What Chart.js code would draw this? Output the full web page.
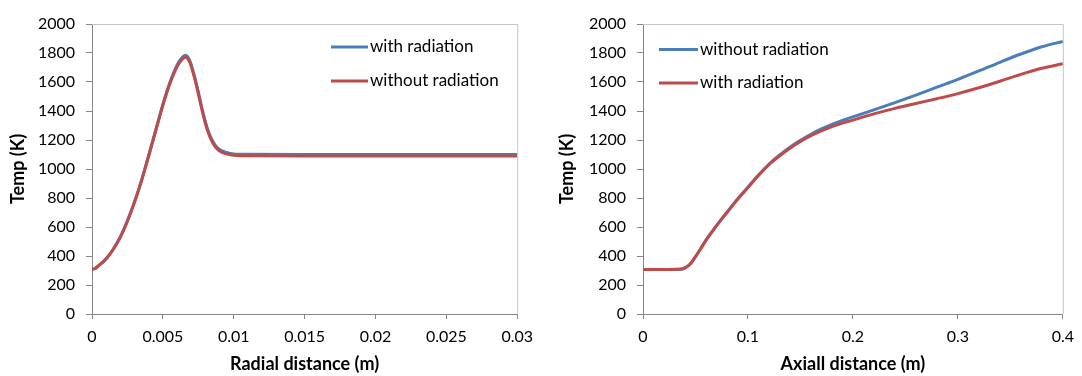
<!DOCTYPE html>
<html>
<head>
<meta charset="utf-8">
<script src="https://cdn.jsdelivr.net/npm/chart.js@4.4.1/dist/chart.umd.min.js"></script>
<style>
  html, body { margin: 0; padding: 0; background: #fff; }
  #wrap { position: relative; width: 1082px; height: 376px; }
  canvas { position: absolute; top: 0; }
  #radialChart { left: 0; }
  #axialChart { left: 541px; }
</style>
</head>
<body>
<div id="wrap">
  <canvas id="radialChart" width="541" height="376"></canvas>
  <canvas id="axialChart" width="541" height="376"></canvas>
</div>
<script>
/* global Chart */

// Left chart: radial profile
const radialX = [0, 0.0002, 0.0005, 0.001, 0.0015, 0.002, 0.0025, 0.003, 0.0035, 0.004, 0.0045, 0.005,
  0.0055, 0.006, 0.0063, 0.0066, 0.0069, 0.0072, 0.0075, 0.0078, 0.0081, 0.0084, 0.0087, 0.009,
  0.0095, 0.01, 0.011, 0.015, 0.02, 0.025, 0.03];
const radialWithRad = [310, 314, 337, 382, 448, 533, 644, 774, 925, 1095, 1270, 1446,
  1598, 1716, 1762, 1784, 1748, 1652, 1532, 1402, 1292, 1214, 1163, 1134,
  1114, 1104, 1101, 1100, 1100, 1100, 1100];
const radialWithoutRad = [308, 312, 335, 380, 445, 530, 640, 770, 920, 1090, 1265, 1440,
  1590, 1705, 1750, 1770, 1735, 1640, 1520, 1390, 1280, 1203, 1153, 1124,
  1104, 1094, 1091, 1090, 1090, 1090, 1090];
const radialTicks = [0, 0.005, 0.01, 0.015, 0.02, 0.025, 0.03];

// Right chart: axial profile
const axialX = [0, 0.02, 0.035, 0.04, 0.045, 0.05, 0.055, 0.06, 0.07, 0.08, 0.09, 0.1, 0.11, 0.12, 0.13,
  0.14, 0.15, 0.16, 0.17, 0.18, 0.19, 0.2, 0.22, 0.24, 0.26, 0.28, 0.3, 0.32, 0.34, 0.36, 0.38, 0.4];
const axialWithoutRad = [307, 307, 308, 318, 345, 395, 452, 510, 610, 702, 792, 875, 958, 1033, 1095,
  1150, 1198, 1240, 1276, 1307, 1335, 1360, 1408, 1458, 1510, 1564, 1618, 1676, 1736, 1793, 1843, 1880];
const axialWithRad = [307, 307, 308, 318, 345, 395, 450, 508, 608, 700, 790, 872, 955, 1030, 1090,
  1143, 1190, 1230, 1263, 1292, 1316, 1337, 1380, 1418, 1452, 1485, 1520, 1560, 1605, 1653, 1695, 1726];
const axialTicks = [0, 0.1, 0.2, 0.3, 0.4];

const tempTicks = [0, 200, 400, 600, 800, 1000, 1200, 1400, 1600, 1800, 2000];

const BLUE = '#4a7ebb';
const RED = '#be4b48';
const AXIS = '#868686';
const FONT = 'Lato, "Open Sans", sans-serif';

const frameAndLegend = {
  id: 'frameAndLegend',
  beforeDatasetsDraw(chart) {
    const { ctx, chartArea: a } = chart;
    ctx.save();
    ctx.strokeStyle = '#c4c4c4';
    ctx.lineWidth = 1;
    ctx.beginPath();
    ctx.moveTo(a.left, a.top + 0.5);
    ctx.lineTo(a.right + 0.5, a.top + 0.5);
    ctx.lineTo(a.right + 0.5, a.bottom);
    ctx.stroke();
    ctx.restore();
  },
  afterDraw(chart, args, opts) {
    const ctx = chart.ctx;
    ctx.save();
    ctx.font = '17px ' + FONT;
    ctx.textBaseline = 'middle';
    ctx.textAlign = 'left';
    chart.data.datasets.forEach((ds, i) => {
      const y = opts.y + i * opts.dy;
      ctx.strokeStyle = ds.borderColor;
      ctx.lineWidth = 3;
      ctx.beginPath();
      ctx.moveTo(opts.x1, y);
      ctx.lineTo(opts.x2, y);
      ctx.stroke();
      ctx.fillStyle = '#000';
      ctx.fillText(ds.label, opts.x2 + 2, y);
    });
    ctx.restore();
  }
};

function pairs(xs, ys) {
  return xs.map((x, i) => ({ x, y: ys[i] }));
}

function makeChart(id, cfg) {
  return new Chart(document.getElementById(id), {
    type: 'line',
    data: {
      datasets: [
        {
          label: cfg.labels[0], data: pairs(cfg.x, cfg.blue), borderColor: BLUE,
          borderWidth: 3, pointRadius: 0, cubicInterpolationMode: 'monotone', order: 1
        },
        {
          label: cfg.labels[1], data: pairs(cfg.x, cfg.red), borderColor: RED,
          borderWidth: 3, pointRadius: 0, cubicInterpolationMode: 'monotone', order: 0
        }
      ]
    },
    options: {
      responsive: false,
      animation: false,
      events: [],
      layout: { padding: { left: 0, right: cfg.padRight, top: 24, bottom: 0 } },
      plugins: {
        legend: { display: false },
        tooltip: { enabled: false },
        frameAndLegend: cfg.legend
      },
      scales: {
        x: {
          type: 'linear',
          min: cfg.x[0],
          max: cfg.xTicks[cfg.xTicks.length - 1],
          afterBuildTicks: (s) => { s.ticks = cfg.xTicks.map(v => ({ value: v })); },
          afterFit: (s) => { s.height = 62; },
          ticks: {
            color: '#000', font: { family: FONT, size: 16 }, padding: 8, maxRotation: 0,
            callback: (v) => String(v)
          },
          grid: { drawOnChartArea: false, drawTicks: true, tickLength: 5, color: AXIS },
          border: { color: AXIS, width: 1 },
          title: {
            display: true, text: cfg.xTitle, color: '#000',
            font: { family: FONT, size: 18, weight: 'bold' }, padding: { top: 0, bottom: 1 }
          }
        },
        y: {
          min: 0,
          max: 2000,
          afterBuildTicks: (s) => { s.ticks = tempTicks.map(v => ({ value: v })); },
          afterFit: (s) => { s.width = cfg.yWidth; },
          ticks: {
            color: '#000', font: { family: FONT, size: 16 }, padding: 11,
            callback: (v) => String(v)
          },
          grid: { drawOnChartArea: false, drawTicks: true, tickLength: 6, color: AXIS },
          border: { color: AXIS, width: 1 },
          title: {
            display: true, text: 'Temp (K)', color: '#000',
            font: { family: FONT, size: 18, weight: 'bold' }, padding: { top: cfg.yTitlePad, bottom: 0 }
          }
        }
      }
    },
    plugins: [frameAndLegend]
  });
}

makeChart('radialChart', {
  x: radialX, blue: radialWithRad, red: radialWithoutRad,
  labels: ['with radiation', 'without radiation'],
  xTicks: radialTicks, xTitle: 'Radial distance (m)',
  padRight: 23, yWidth: 92, yTitlePad: 7,
  legend: { x1: 331, x2: 368, y: 47, dy: 34 }
});

makeChart('axialChart', {
  x: axialX, blue: axialWithoutRad, red: axialWithRad,
  labels: ['without radiation', 'with radiation'],
  xTicks: axialTicks, xTitle: 'Axiall distance (m)',
  padRight: 14, yWidth: 102, yTitlePad: 15,
  legend: { x1: 118, x2: 157, y: 49.5, dy: 33.5 }
});
</script>
</body>
</html>
